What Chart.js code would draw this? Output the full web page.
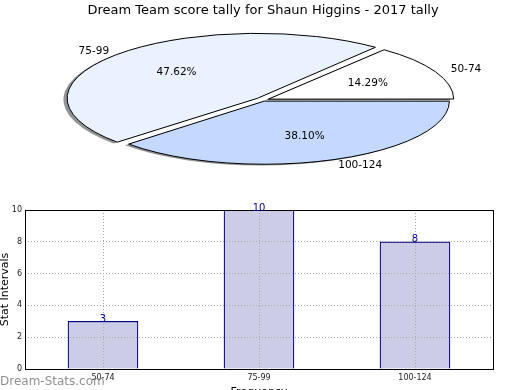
<!DOCTYPE html>
<html>
<head>
<meta charset="utf-8">
<script src="https://cdn.jsdelivr.net/npm/chart.js@4.4.1/dist/chart.umd.min.js"></script>
<style>
  html, body { margin: 0; padding: 0; background: #fff; overflow: hidden; }
  #wrap { position: relative; width: 520px; height: 390px; overflow: hidden; }
  #pieChart { position: absolute; left: 0; top: 0; }
  #barChart { position: absolute; left: 0; top: 195px; }
</style>
</head>
<body>
<div id="wrap">
  <canvas id="pieChart" width="520" height="200"></canvas>
  <canvas id="barChart" width="520" height="206"></canvas>
</div>
<script>
const chartTitle = 'Dream Team score tally for Shaun Higgins - 2017 tally';
const categories = ['50-74', '75-99', '100-124'];
const counts = [3, 10, 8];
const yTicks = [0, 2, 4, 6, 8, 10];
const pieColors = ['#ffffff', '#ebf2ff', '#c5d9ff'];
const pieOffsets = [24, 30, 14];

// squash factor so the pie comes out as a flat ellipse
const SQUASH = 0.341;

Chart.defaults.font.family = '"DejaVu Sans", sans-serif';
Chart.defaults.color = '#000';

const total = counts.reduce((s, v) => s + v, 0);
// chart.js goes clockwise, so feed slices in reverse to get the ccw order
const pieOrder = [2, 1, 0];

function sectorPath(ctx, a, dx, dy) {
    const off = (a.options.offset || 0) / 4;
    const mid = (a.startAngle + a.endAngle) / 2;
    const circ = a.endAngle - a.startAngle;
    const fix = 1 - Math.sin(Math.min(Math.PI, circ));
    const ro = off * fix;
    const r = a.outerRadius + ro;
    const beta = Math.max(0.001, circ * r - ro / Math.PI) / r;
    const d = (circ - beta) / 2;
    const cx = a.x + Math.cos(mid) * off + dx;
    const cy = a.y + Math.sin(mid) * off + dy;
    ctx.moveTo(cx, cy);
    ctx.arc(cx, cy, r, a.startAngle + d, a.endAngle - d);
    ctx.closePath();
}

function squash(ctx, cx, cy) {
    ctx.translate(cx, cy);
    ctx.scale(1, SQUASH);
    ctx.translate(-cx, -cy);
}

const ellipsePie = {
    id: 'ellipsePie',
    beforeDatasetsDraw(chart) {
        const ctx = chart.ctx;
        const arcs = chart.getDatasetMeta(0).data;
        ctx.save();
        squash(ctx, arcs[0].x, arcs[0].y);
        ctx.fillStyle = 'rgba(55,58,64,0.55)';
        arcs.forEach(a => {
            ctx.beginPath();
            sectorPath(ctx, a, -3.7, 1.25 / SQUASH);
            ctx.fill();
        });
    },
    afterDatasetsDraw(chart) {
        const ctx = chart.ctx;
        ctx.restore();
        const arcs = chart.getDatasetMeta(0).data;
        // outlines with an even line width
        arcs.forEach(a => {
            ctx.save();
            squash(ctx, a.x, a.y);
            ctx.beginPath();
            sectorPath(ctx, a, 0, 0);
            ctx.restore();
            ctx.lineWidth = 1;
            ctx.strokeStyle = '#000';
            ctx.stroke();
        });
        ctx.save();
        ctx.fillStyle = '#000';
        ctx.font = '10.5px "DejaVu Sans"';
        ctx.textBaseline = 'middle';
        arcs.forEach((a, i) => {
            const mid = (a.startAngle + a.endAngle) / 2;
            const off = a.options.offset / 4;
            const r = a.outerRadius;
            const c = Math.cos(mid), s = Math.sin(mid);
            const px = k => a.x + (off + k * r) * c;
            const py = k => a.y + (off + k * r) * s * SQUASH;
            const value = chart.data.datasets[0].data[i];
            ctx.textAlign = 'center';
            ctx.fillText((value / total * 100).toFixed(2) + '%', px(0.6), py(0.6));
            ctx.textAlign = c > 0 ? 'left' : 'right';
            ctx.fillText(chart.data.labels[i], px(1.1), py(1.1));
        });
        ctx.restore();
    }
};

new Chart(document.getElementById('pieChart'), {
    type: 'pie',
    data: {
        labels: pieOrder.map(i => categories[i]),
        datasets: [{
            data: pieOrder.map(i => counts[i]),
            backgroundColor: pieOrder.map(i => pieColors[i]),
            offset: pieOrder.map(i => pieOffsets[i]),
            borderWidth: 0,
            clip: false
        }]
    },
    options: {
        responsive: false,
        animation: false,
        rotation: 90,
        radius: 184,
        layout: { padding: { left: 6, right: 0, top: 0, bottom: 35.6 } },
        plugins: {
            legend: { display: false },
            tooltip: { enabled: false },
            title: {
                display: true,
                text: chartTitle,
                font: { size: 13, weight: 'normal' },
                color: '#000',
                padding: { top: 3, bottom: 17 }
            }
        }
    },
    plugins: [ellipsePie]
});

const barExtras = {
    id: 'barExtras',
    afterDraw(chart) {
        const ctx = chart.ctx;
        const a = chart.chartArea;
        ctx.save();
        ctx.strokeStyle = '#000';
        ctx.lineWidth = 1;
        ctx.strokeRect(Math.round(a.left) + 0.5, Math.round(a.top) + 0.5,
            Math.round(a.right - a.left), Math.round(a.bottom - a.top));

        // value labels above bars
        ctx.fillStyle = '#000099';
        ctx.font = '10px "DejaVu Sans"';
        ctx.textAlign = 'center';
        ctx.textBaseline = 'alphabetic';
        chart.getDatasetMeta(0).data.forEach((bar, i) => {
            ctx.fillText(String(counts[i]), bar.x, bar.y + 0.5);
        });

        // watermark
        ctx.fillStyle = 'rgba(125,125,125,0.85)';
        ctx.font = '12px "DejaVu Sans"';
        ctx.textAlign = 'left';
        ctx.textBaseline = 'middle';
        ctx.fillText('Dream-Stats.com', 0, 186.5);
        ctx.restore();
    }
};

new Chart(document.getElementById('barChart'), {
    type: 'bar',
    data: {
        labels: categories,
        datasets: [{
            data: counts,
            backgroundColor: '#ccccE6',
            borderColor: '#000080',
            borderWidth: 1.2,
            barThickness: 70,
            categoryPercentage: 1
        }]
    },
    options: {
        responsive: false,
        animation: false,
        layout: { padding: { top: 15, right: 27, left: 0, bottom: 0 } },
        plugins: {
            legend: { display: false },
            tooltip: { enabled: false }
        },
        scales: {
            x: {
                afterFit: s => { s.height = 32; },
                grid: { offset: false, color: '#aaaaaa', drawTicks: false, z: 1 },
                border: { display: false, dash: [1, 2] },
                ticks: { padding: 4, font: { size: 8 }, color: '#222' },
                title: { display: true, text: 'Frequency', font: { size: 11 }, color: '#000', padding: { top: 0, bottom: 2.4 } }
            },
            y: {
                min: 0,
                max: 10,
                afterBuildTicks: s => { s.ticks = yTicks.map(v => ({ value: v })); },
                afterFit: s => { s.width = 25; },
                grid: { color: '#aaaaaa', drawTicks: false, z: 1 },
                border: { display: false, dash: [1, 2] },
                ticks: { padding: 3, font: { size: 8 }, color: '#222' },
                title: { display: true, text: 'Stat Intervals', font: { size: 11 }, color: '#000', padding: { top: -1, bottom: 0 } }
            }
        }
    },
    plugins: [barExtras]
});
</script>
</body>
</html>
